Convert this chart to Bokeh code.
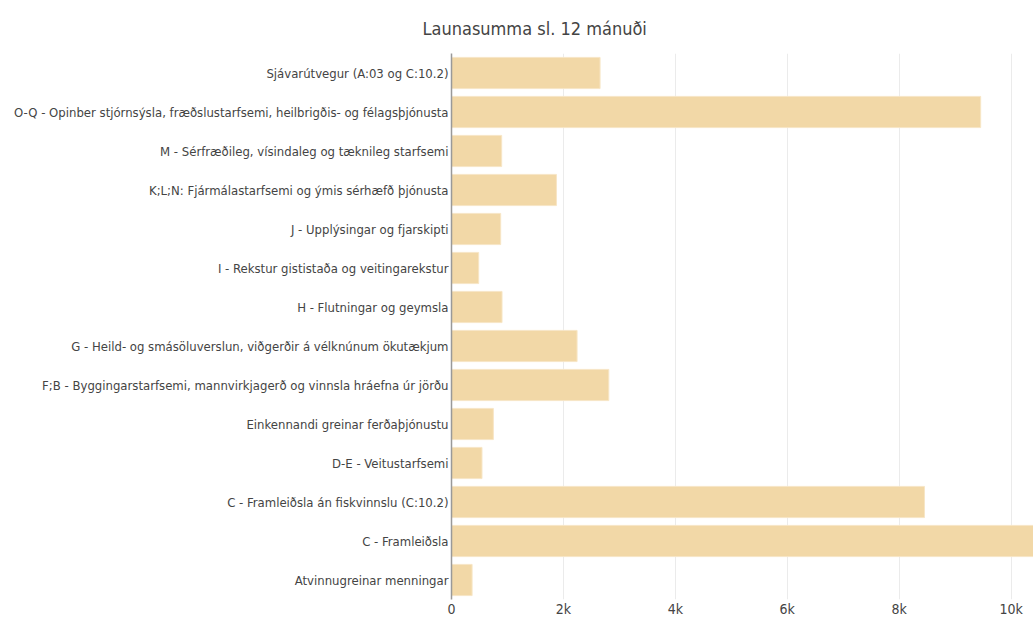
from bokeh.plotting import figure
from bokeh.models import Range1d, FixedTicker, NumeralTickFormatter
from bokeh.embed import file_html
from bokeh.resources import INLINE

categories = [
    "Sjávarútvegur (A:03 og C:10.2)",
    "O-Q - Opinber stjórnsýsla, fræðslustarfsemi, heilbrigðis- og félagsþjónusta",
    "M - Sérfræðileg, vísindaleg og tæknileg starfsemi",
    "K;L;N: Fjármálastarfsemi og ýmis sérhæfð þjónusta",
    "J - Upplýsingar og fjarskipti",
    "I - Rekstur gististaða og veitingarekstur",
    "H - Flutningar og geymsla",
    "G - Heild- og smásöluverslun, viðgerðir á vélknúnum ökutækjum",
    "F;B - Byggingarstarfsemi, mannvirkjagerð og vinnsla hráefna úr jörðu",
    "Einkennandi greinar ferðaþjónustu",
    "D-E - Veitustarfsemi",
    "C - Framleiðsla án fiskvinnslu (C:10.2)",
    "C - Framleiðsla",
    "Atvinnugreinar menningar",
]
values = [2655, 9456, 897, 1875, 879, 486, 903, 2244, 2811, 748, 545, 8452, 10900, 368]
x_ticks = [0, 2000, 4000, 6000, 8000, 10000]
title_text = "Launasumma sl. 12 mánuði"

FONT = "'DejaVu Sans Condensed', sans-serif"
TEXT_COLOR = "#444444"

p = figure(
    width=1033, height=619,
    y_range=list(reversed(categories)),
    x_range=Range1d(0, 10400),
    output_backend="svg", toolbar_location=None,
    min_border_left=451, min_border_right=0, min_border_top=53, min_border_bottom=0,
)

p.hbar(y=categories, right=values, left=0, height=0.8,
       fill_color="#F2D8A7", line_color="#F7E6C6", line_width=1)

p.title.text = title_text
p.title.align = "left"
p.title.offset = -29
p.title.standoff = 30
p.title.text_font = FONT
p.title.text_font_size = "18px"
p.title.text_font_style = "normal"
p.title.text_color = TEXT_COLOR

p.outline_line_color = None
p.background_fill_color = "white"

p.xaxis.ticker = FixedTicker(ticks=x_ticks)
p.xaxis.formatter = NumeralTickFormatter(format="0a")
p.xaxis.axis_line_color = None
p.xaxis.major_tick_line_color = None
p.xaxis.minor_tick_line_color = None
p.xaxis.major_tick_out = 0
p.xaxis.major_tick_in = 0
p.xaxis.major_label_standoff = 1
p.xaxis.axis_label = None
p.xaxis.axis_label_standoff = 0
p.xaxis.major_label_text_font = FONT
p.xaxis.major_label_text_font_size = "14px"
p.xaxis.major_label_text_color = TEXT_COLOR

p.yaxis.axis_line_color = "#999999"
p.yaxis.axis_line_width = 1.5
p.yaxis.major_tick_line_color = None
p.yaxis.minor_tick_line_color = None
p.yaxis.major_tick_out = 0
p.yaxis.major_tick_in = 0
p.yaxis.major_label_standoff = 3
p.yaxis.axis_label = None
p.yaxis.axis_label_standoff = 0
p.yaxis.major_label_text_font = FONT
p.yaxis.major_label_text_font_size = "13px"
p.yaxis.major_label_text_color = TEXT_COLOR

p.xgrid.grid_line_color = "#EBEBEB"
p.xgrid.grid_line_width = 1
p.ygrid.grid_line_color = None

open("out.html", "w").write(file_html(p, INLINE))
